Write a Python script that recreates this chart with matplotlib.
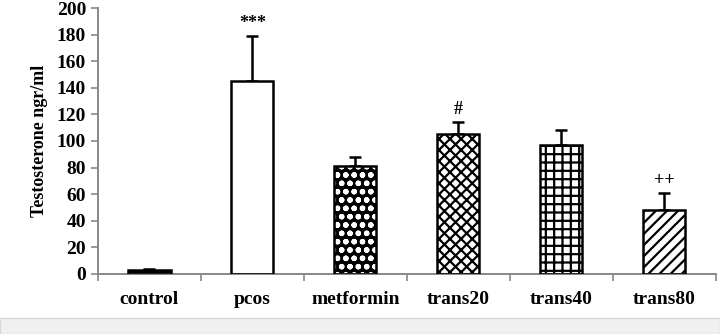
import matplotlib
matplotlib.use('Agg')
import matplotlib.pyplot as plt
import numpy as np

# data
groups = ["control", "pcos", "metformin", "trans20", "trans40", "trans80"]
means = [3, 145, 81, 105, 97, 48]
errors = [1, 34, 7, 9, 11, 13]
marks = ["", "***", "", "#", "", "++"]

plt.rcParams['font.family'] = ['Liberation Serif', 'DejaVu Serif']
plt.rcParams['font.weight'] = 'bold'
plt.rcParams['hatch.linewidth'] = 1.6

fig = plt.figure(figsize=(7.2, 3.34), dpi=100)
ax = fig.add_axes([0.136, 0.18, 0.858, 0.796])

x = np.arange(len(groups))
w = 0.41
faces = ["black", "white", "black", "white", "white", "white"]
hatches = [None, None, "oo", "xxx", "++", "///"]
hcolors = ["black", "black", "white", "black", "black", "black"]

for xi, m, fc, h, hc in zip(x, means, faces, hatches, hcolors):
    ax.bar(xi, m, w, color=fc, edgecolor=hc, hatch=h, linewidth=0, zorder=2)
    ax.bar(xi, m, w, fill=False, edgecolor="black", linewidth=1.8, zorder=3)

ax.errorbar(x, means, yerr=[np.zeros(len(errors)), errors], fmt="none",
            ecolor="black", elinewidth=1.8, capsize=4, capthick=1.8, zorder=1)

for xi, m, e, t in zip(x, means, errors, marks):
    if t:
        ax.text(xi, m + e + 3, t, ha="center", va="bottom", fontsize=13,
                fontweight="bold")

ax.set_xlim(-0.5, len(groups) - 0.5)
ax.set_ylim(0, 200)
ax.set_yticks(range(0, 201, 20))
ax.set_xticks(x)
ax.set_xticklabels(groups)
ax.set_xticks(np.arange(-0.5, len(groups), 1), minor=True)
ax.tick_params(axis='x', which='major', length=0, pad=12, labelsize=14)
ax.tick_params(axis='x', which='minor', length=5, color="#888888", width=1.2)
ax.tick_params(axis='y', length=5, color="#888888", width=1.2, labelsize=14)
ax.set_ylabel("Testosterone ngr/ml", fontsize=13, fontweight="bold", labelpad=6)

for s in ("top", "right"):
    ax.spines[s].set_visible(False)
for s in ("left", "bottom"):
    ax.spines[s].set_color("#888888")
    ax.spines[s].set_linewidth(1.4)

# grey strip at the bottom of the image
fig.patches.append(plt.Rectangle((0, 0), 1, 0.048, transform=fig.transFigure,
                                 facecolor="#f0f0f0", edgecolor="#d8d8d8",
                                 linewidth=1))

fig.savefig("out.png", dpi=100)
